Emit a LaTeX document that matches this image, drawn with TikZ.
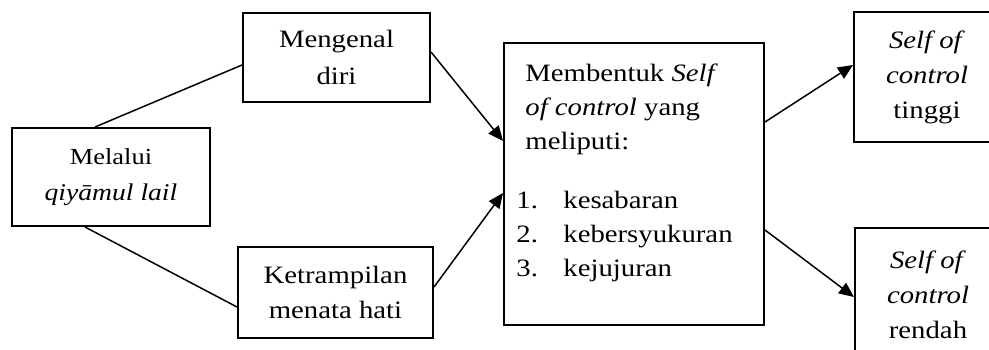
\documentclass[tikz,border=0pt]{standalone}
\usepackage{fontspec}
\setmainfont{Liberation Serif}[FakeStretch=1.15]
\usepackage{tikz}
\usetikzlibrary{arrows.meta}
\newcommand{\nomor}[1]{\makebox[23.5pt][l]{#1.}}
\tikzset{kotak/.style={draw, line width=1pt, align=center, inner sep=0pt,
    font=\fontsize{12.5}{18.3}\selectfont},
  garis/.style={line width=0.75pt}}

\begin{document}
\begin{tikzpicture}[x=0.5pt,y=-0.5pt,>={Triangle[length=7.5pt,width=6.5pt]}]
\useasboundingbox (0,0) rectangle (989,349);
\node[kotak, minimum width=99pt, minimum height=49pt, font=\fontsize{11.5}{18}\selectfont] (A) at (111,177) {Melalui\\ {\fontsize{12}{18}\selectfont\itshape qiyāmul lail}};
\node[kotak, minimum width=93.5pt, minimum height=44.5pt] (B) at (336.5,57.5) {Mengenal\\ diri};
\node[kotak, minimum width=97.5pt, minimum height=45.5pt, font=\fontsize{12.5}{17.5}\selectfont] (C) at (335.5,292.5) {Ketrampilan\\ menata hati};
\node[kotak, minimum width=130pt, minimum height=141pt] (D) at (634,184) {};
\node[anchor=north west, align=left, inner sep=0pt, font=\fontsize{12.5}{17}\selectfont] (Dtext) at ([shift={(6.5pt,-10.5pt)}]D.north west)
  {\hspace*{4.5pt}Membentuk \textit{Self}\\
   \hspace*{4.5pt}\textit{of control} yang\\
   \hspace*{4.5pt}meliputi:\\[12.5pt]
   \nomor{1}kesabaran\\
   \nomor{2}kebersyukuran\\
   \nomor{3}kejujuran};
\node[kotak, minimum width=73pt, minimum height=65pt, font=\fontsize{12.5}{17.5}\selectfont] (E) at (927,77) {\textit{Self of}\\ \textit{control}\\ tinggi};
\node[kotak, minimum width=73pt, minimum height=67pt, font=\fontsize{12.5}{17.5}\selectfont] (F) at (928,295) {\textit{Self of}\\ \textit{control}\\ rendah};

\draw[garis] ([xshift=-8pt]A.north) -- ([yshift=-3.75pt]B.west);
\draw[garis] ([xshift=-13pt]A.south) -- ([yshift=-7.25pt]C.west);
\draw[garis,->] ([yshift=2.75pt]B.east) -- ([yshift=21.5pt]D.west);
\draw[garis,->] ([yshift=2.75pt]C.east) -- ([yshift=-4.5pt]D.west);
\draw[garis,->] ([yshift=31pt]D.east) -- ([yshift=6pt]E.west);
\draw[garis,->] ([yshift=-23pt]D.east) -- ([yshift=-1pt]F.west);
\end{tikzpicture}
\end{document}
